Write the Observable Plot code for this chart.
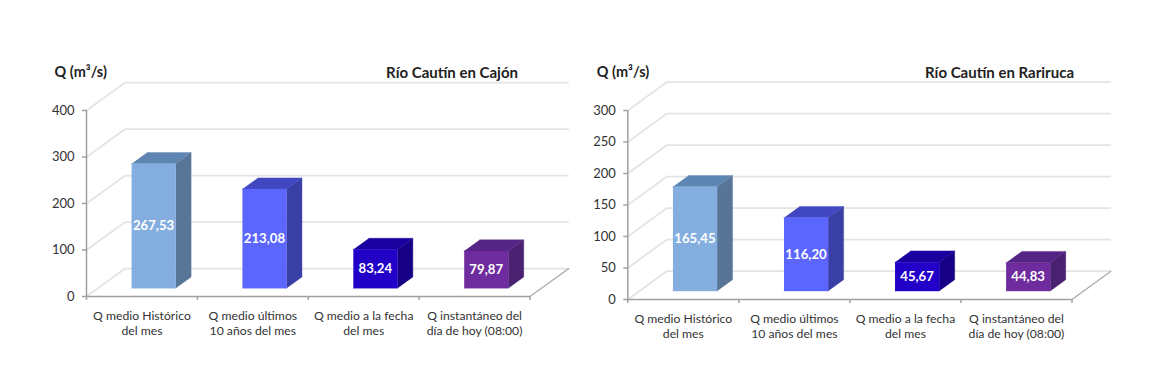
<!DOCTYPE html>
<html>
<head>
<meta charset="utf-8">
<script src="https://cdn.jsdelivr.net/npm/d3@7"></script>
<script src="https://cdn.jsdelivr.net/npm/@observablehq/plot@0.6"></script>
<style>
  html, body { margin: 0; padding: 0; background: #fff; }
  #root { position: relative; width: 1167px; height: 380px; overflow: hidden; }
  #root svg { position: absolute; top: 0; background: transparent; overflow: visible; }
</style>
</head>
<body>
<div id="root"></div>
<script>
const categories = [
  "Q medio Histórico\ndel mes",
  "Q medio últimos\n10 años del mes",
  "Q medio a la fecha\ndel mes",
  "Q instantáneo del\ndía de hoy (08:00)"
];
const cajonValues = [267.53, 213.08, 83.24, 79.87];
const rarirucaValues = [165.45, 116.20, 45.67, 44.83];
const cajonTicks = [0, 100, 200, 300, 400];
const rarirucaTicks = [0, 50, 100, 150, 200, 250, 300];
const cajonTitle = "Río Cautín en Cajón";
const rarirucaTitle = "Río Cautín en Rariruca";
const yLabel = "Q (m³/s)";
const frontColors = ["#85aee0", "#5b66ff", "#2200c8", "#6e2c9e"];
const sideColors = ["#587597", "#3a3fa5", "#170085", "#4a2070"];
const topColors = ["#5f86b2", "#4047c0", "#1a009e", "#552585"];

const FONT = "Lato, 'Open Sans', sans-serif";

function chart({values, ticks, title, left, width, marginLeft, marginRight, marginBottom, titleDx, titleDy, labelDy}) {
  const height = 380;
  const marginTop = 110;
  const yMax = d3.max(ticks);
  const depthX = 0.35, depthY = 0.15 * yMax;   // oblique projection of the depth axis, in data units
  const n = categories.length;
  const at = (x, y, d) => ({x: x + d * depthX, y: y + d * depthY});
  const barW = 0.397, near = 0.3, far = 0.7;

  const grid = [];
  ticks.forEach((t) => {
    grid.push({z: t, ...at(0, t, 0)}, {z: t, ...at(0, t, 1)}, {z: t, ...at(n, t, 1)});
  });

  const faces = [];
  values.forEach((v, i) => {
    const x0 = i + 0.5 - barW / 2, x1 = i + 0.5 + barW / 2;
    const poly = (name, color, pts) => pts.forEach((p) => faces.push({z: `${i}${name}`, color, ...p}));
    poly("s", sideColors[i], [at(x1, 0, near), at(x1, 0, far), at(x1, v, far), at(x1, v, near)]);
    poly("t", topColors[i], [at(x0, v, near), at(x1, v, near), at(x1, v, far), at(x0, v, far)]);
    poly("f", frontColors[i], [at(x0, 0, near), at(x1, 0, near), at(x1, v, near), at(x0, v, near)]);
  });

  const labels = values.map((v, i) => ({
    ...at(i + 0.5, v / 2, near),
    text: v.toFixed(2).replace(".", ",")
  }));

  const plot = Plot.plot({
    width, height, marginTop, marginBottom, marginLeft, marginRight,
    x: {domain: [0, n]},
    y: {domain: [0, yMax]},
    style: {fontFamily: FONT, background: "transparent", overflow: "visible"},
    marks: [
      Plot.line(grid, {x: "x", y: "y", z: "z", stroke: "#e4e4e4", strokeWidth: 1.8, strokeLinecap: "butt", strokeLinejoin: "miter"}),
      Plot.line([at(n, 0, 0), at(n, 0, 1)], {x: "x", y: "y", stroke: "#a8a8a8", strokeWidth: 1.2}),
      Plot.axisY({ticks, tickSize: 4, tickPadding: 8, fontSize: 13, stroke: "#a0a0a0", strokeWidth: 1.5, textStroke: "none", fill: "#333", label: null}),
      Plot.axisX({ticks: d3.range(n + 1), tickSize: 4, tickFormat: () => "", stroke: "#a0a0a0", strokeWidth: 1.5, label: null}),
      Plot.ruleX([0], {stroke: "#a0a0a0", strokeWidth: 1.5}),
      Plot.ruleY([0], {stroke: "#a0a0a0", strokeWidth: 1.5}),
      Plot.line(faces, {x: "x", y: "y", z: "z", fill: "color", stroke: "color", strokeWidth: 0.4}),
      Plot.text(labels, {x: "x", y: "y", text: "text", fill: "#fff", fontWeight: 700, fontSize: 13.2}),
      Plot.text(categories, {
        x: (d, i) => i + 0.5, y: 0, text: (d) => d, dy: labelDy,
        lineAnchor: "top", lineHeight: 1.27, fontSize: 12.2, fill: "#333"
      }),
      Plot.text([yLabel], {frameAnchor: "top-left", textAnchor: "start", dx: titleDx, dy: -44, fontWeight: 700, fontSize: 14.5, fill: "#222"}),
      Plot.text([title], {frameAnchor: "top-right", textAnchor: "end", dx: titleDy, dy: -43.5, fontWeight: 700, fontSize: 15, fill: "#222"})
    ]
  });
  plot.style.left = left + "px";
  return plot;
}

const root = document.getElementById("root");
root.append(
  chart({values: cajonValues, ticks: cajonTicks, title: cajonTitle, left: 0, width: 583,
         marginLeft: 86, marginRight: 53.5, marginBottom: 84, titleDx: -32, titleDy: -12, labelDy: 12}),
  chart({values: rarirucaValues, ticks: rarirucaTicks, title: rarirucaTitle, left: 583, width: 584,
         marginLeft: 44.3, marginRight: 95.5, marginBottom: 81, titleDx: -31, titleDy: 2, labelDy: 12})
);
</script>
</body>
</html>
